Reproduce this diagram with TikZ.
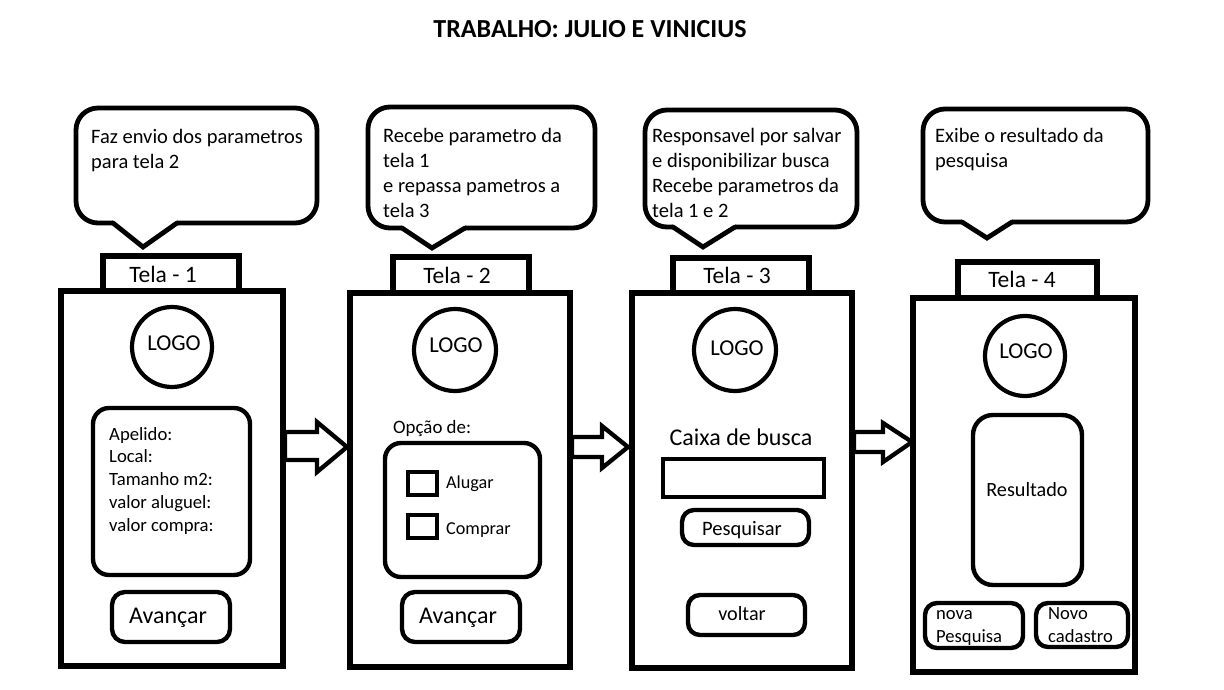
\documentclass[tikz,border=0pt]{standalone}
\usepackage{fontspec}
\setmainfont{Carlito}
\newcommand{\fs}[2]{\fontsize{#1}{#2}\selectfont}
\begin{document}
\begin{tikzpicture}[x=1pt,y=-1pt,
  frame/.style={draw, line width=5.3pt, fill=white},
  rbox/.style={draw, line width=4.4pt, rounded corners=13pt},
  bub/.style={line width=4.8pt, rounded corners=22pt},
  tail/.style={line width=4.8pt, line join=miter, line cap=round},
  barrow/.style={draw, line width=4.3pt, fill=white, line join=miter},
  logo/.style={draw, line width=4.2pt},
  txt/.style={inner sep=0pt, anchor=base},
  ltxt/.style={inner sep=0pt, anchor=base west},
  btxt/.style={inner sep=0pt, anchor=north west, align=left, font=\fs{20.5}{25}},
  ftxt/.style={inner sep=0pt, anchor=north west, align=left, font=\fs{18.7}{22.8}},
  ntxt/.style={inner sep=0pt, anchor=north west, align=left, font=\fs{18.6}{23}}
]
\useasboundingbox (0,0) rectangle (1224,690);
\fill[white] (0,0) rectangle (1224,690);

% title
\node[txt, font=\fs{26}{30}\bfseries] (title) at (590,38) {TRABALHO: JULIO E VINICIUS};

% ---------- speech bubbles ----------
\draw[bub] (113,223) -- (76,223) -- (76,108) -- (317,108) -- (317,223) -- (177,223);
\draw[tail] (113,223) -- (143,247) -- (177,223);
\node[btxt] (b1) at (91,125.5) {\strut Faz envio dos parametros\\\strut para tela 2};

\draw[bub] (402,228) -- (368,228) -- (368,107) -- (595,107) -- (595,228) -- (465,228);
\draw[tail] (402,228) -- (432,248) -- (465,228);
\node[btxt] (b2) at (383,124.5) {\strut Recebe parametro da\\\strut tela 1\\\strut e repassa pametros a\\\strut tela 3};

\draw[bub] (673,227) -- (645,227) -- (645,110) -- (857,110) -- (857,227) -- (735,227);
\draw[tail] (673,227) -- (703,247) -- (735,227);
\node[btxt] (b3) at (652,124.5) {\strut Responsavel por salvar\\\strut e disponibilizar busca\\\strut Recebe parametros da\\\strut tela 1 e 2};

\draw[bub] (962,222) -- (923,222) -- (923,109) -- (1148,109) -- (1148,222) -- (1012,222);
\draw[tail] (962,222) -- (987,238) -- (1012,222);
\node[btxt] (b4) at (935,124.5) {\strut Exibe o resultado da\\\strut pesquisa};

% ---------- tabs ----------
\draw[frame] (103,256) rectangle (239,291);
\draw[frame] (393,257) rectangle (529,293);
\draw[frame] (673,258) rectangle (809,293);
\draw[frame] (958,262) rectangle (1097,298);
\node[txt, font=\fs{23.5}{28}] (t1) at (163,282) {Tela - 1};
\node[txt, font=\fs{23.5}{28}] (t2) at (457,283) {Tela - 2};
\node[txt, font=\fs{23.5}{28}] (t3) at (737,283) {Tela - 3};
\node[txt, font=\fs{23.5}{28}] (t4) at (1022,287) {Tela - 4};

% ---------- panels ----------
\draw[frame] (61,291) rectangle (283,666);
\draw[frame] (350,293) rectangle (570,667);
\draw[frame] (632,293) rectangle (852,668);
\draw[frame] (913,298) rectangle (1135,672);

% ---------- block arrows ----------
\draw[barrow] (285,432) -- (317,432) -- (317,422) -- (347,447) -- (317,472) -- (317,460) -- (285,460) -- cycle;
\draw[barrow] (572,437) -- (602,437) -- (602,426) -- (628,447) -- (602,468) -- (602,457) -- (572,457) -- cycle;
\draw[barrow] (854,432) -- (883,432) -- (883,423) -- (912,442) -- (883,462) -- (883,452) -- (854,452) -- cycle;

% ---------- logos ----------
\draw[logo] (172,347) circle (40);
\draw[logo] (455,350) circle (41);
\draw[logo] (735,350) circle (41);
\draw[logo] (1025,356) circle (40);
\node[txt, font=\fs{22.7}{27}] (l1) at (174,350) {LOGO};
\node[txt, font=\fs{22.7}{27}] (l2) at (456,352) {LOGO};
\node[txt, font=\fs{22.7}{27}] (l3) at (737,355) {LOGO};
\node[txt, font=\fs{22.7}{27}] (l4) at (1026,358) {LOGO};

% ---------- tela 1 ----------
\draw[rbox, rounded corners=16pt] (93,408) rectangle (250,575);
\node[ftxt] (fields) at (109,424) {\strut Apelido:\\\strut Local:\\\strut Tamanho m2:\\\strut valor aluguel:\\\strut valor compra:};
\draw[rbox] (112,592) rectangle (230,642);
\node[txt, font=\fs{24}{29}] (av1) at (168,623) {Avançar};

% ---------- tela 2 ----------
\node[ltxt, font=\fs{18.9}{23}] (opc) at (393,433) {Opção de:};
\draw[rbox, rounded corners=16pt] (385,443) rectangle (540,577);
\draw[logo] (408,472) rectangle (437,495);
\draw[logo] (408,515) rectangle (437,538);
\node[ltxt, font=\fs{18.2}{22}] (alu) at (446,488) {Alugar};
\node[ltxt, font=\fs{18.2}{22}] (com) at (446,534) {Comprar};
\draw[rbox] (402,592) rectangle (520,642);
\node[txt, font=\fs{24}{29}] (av2) at (458,623) {Avançar};

% ---------- tela 3 ----------
\node[txt, font=\fs{24}{29}] (cx) at (741,445) {Caixa de busca};
\draw[logo] (663,459) rectangle (824,497);
\draw[rbox, rounded corners=12pt] (682,510) rectangle (809,545);
\node[txt, font=\fs{20.5}{25}] (pq) at (742,535) {Pesquisar};
\draw[rbox, rounded corners=12pt] (688,595) rectangle (805,635);
\node[txt, font=\fs{20.2}{25}] (vo) at (742,620) {voltar};

% ---------- tela 4 ----------
\draw[rbox, rounded corners=20pt] (973,415) rectangle (1082,585);
\node[txt, font=\fs{20.2}{25}] (res) at (1027,496) {Resultado};
\draw[rbox, rounded corners=12pt] (925,603) rectangle (1023,648);
\node[ntxt] (np) at (936,602.9) {\strut nova\\\strut Pesquisa};
\draw[rbox, rounded corners=12pt] (1036,603) rectangle (1128,647);
\node[ntxt] (nc) at (1048,602.9) {\strut Novo\\\strut cadastro};
\end{tikzpicture}
\end{document}
